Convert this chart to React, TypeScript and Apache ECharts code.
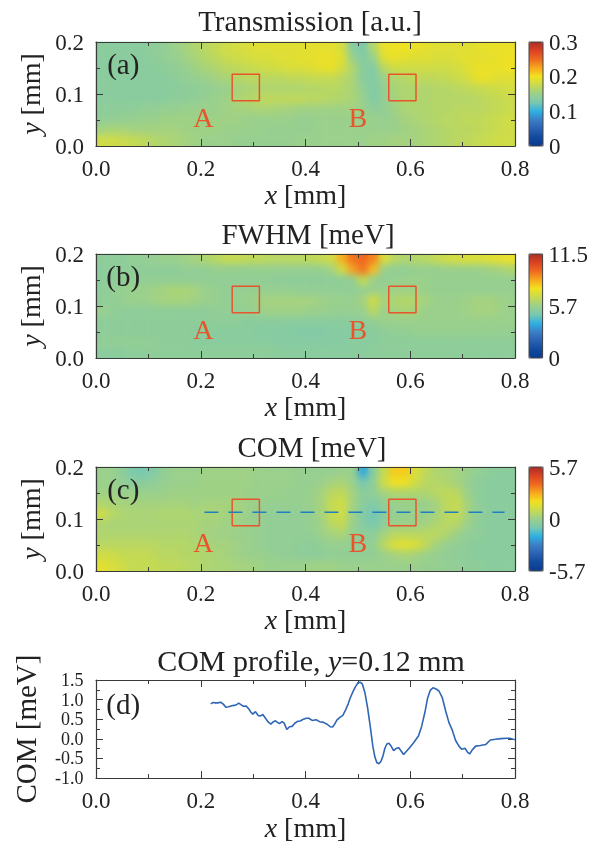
import React, { useEffect, useRef } from "react";
import * as echarts from "echarts";

// Heat-map cell centres (mm)
const xCenters = [0.01,0.03,0.05,0.07,0.09,0.11,0.13,0.15,0.17,0.19,0.21,0.23,0.25,0.27,0.29,0.31,0.33,0.35,0.37,0.39,0.41,0.43,0.45,0.47,0.49,0.51,0.53,0.55,0.57,0.59,0.61,0.63,0.65,0.67,0.69,0.71,0.73,0.75,0.77,0.79];
const yCentersTopDown = [0.19,0.17,0.15,0.13,0.11,0.09,0.07,0.05,0.03,0.01];

const transmissionRows = [
  [46,46,46,46,46,47,48,50,52,54,56,58,60,61,62,63,63,63,63,63,64,64,64,61,45,43,55,65,66,66,65,64,63,63,63,63,64,65,65,65],
  [46,46,46,46,46,47,48,49,51,53,55,57,59,60,61,62,62,63,63,64,64,65,65,63,50,44,50,63,65,64,63,63,62,62,63,64,64,64,65,66],
  [46,46,46,46,46,46,47,48,49,51,53,54,56,57,58,59,60,61,62,62,63,64,65,61,54,46,44,56,60,60,60,60,60,60,61,63,65,65,65,66],
  [46,46,46,46,46,46,46,47,48,49,50,52,53,55,56,56,56,56,57,57,58,58,58,56,53,46,44,50,54,55,57,57,57,58,59,61,65,65,63,63],
  [46,46,46,46,46,46,46,46,47,47,48,49,50,52,53,54,54,54,54,54,55,55,56,55,53,48,44,48,53,54,54,54,55,55,56,57,58,59,60,61],
  [46,46,46,46,46,46,46,47,47,48,49,50,51,53,55,56,57,57,57,57,56,56,55,54,53,50,44,48,52,54,54,54,55,55,55,55,56,57,58,59],
  [47,47,47,47,48,48,49,49,50,50,50,50,51,52,52,53,53,52,52,51,51,51,51,51,51,50,47,48,51,53,54,54,55,55,56,56,56,57,58,59],
  [48,48,49,49,50,50,51,51,51,51,51,51,51,51,50,50,50,50,50,49,49,50,50,50,50,50,50,49,50,52,53,54,55,56,56,57,57,58,59,60],
  [52,53,53,52,52,52,52,52,51,51,51,51,50,50,50,50,49,49,49,49,49,50,50,50,50,50,50,50,50,51,52,53,54,55,56,56,57,58,59,60],
  [60,60,59,58,57,55,54,53,52,51,50,50,50,49,49,49,49,49,49,50,50,50,50,50,50,50,51,51,52,52,52,53,54,55,56,57,58,59,60,60],
];
const fwhmRows = [
  [47,47,47,48,48,49,50,50,51,52,54,56,58,58,57,57,56,56,56,56,57,58,60,74,82,84,80,62,56,54,55,56,58,60,61,62,62,63,64,65],
  [46,47,47,47,47,47,47,47,48,48,48,49,49,49,49,49,49,49,49,49,49,49,52,60,76,82,72,50,48,48,49,49,49,50,50,50,50,51,52,54],
  [47,47,48,48,48,48,48,48,48,48,48,48,48,48,48,48,48,47,47,47,47,47,47,47,48,58,50,48,49,50,50,50,49,49,49,49,49,49,49,49],
  [47,48,49,50,50,51,52,53,53,52,50,49,48,48,49,49,49,49,49,48,48,48,48,48,48,49,50,50,51,51,51,50,49,49,49,49,49,49,49,49],
  [47,48,49,50,50,51,52,52,52,51,50,49,48,49,50,51,52,52,52,52,52,51,50,50,49,52,60,52,54,55,54,52,50,50,50,51,52,52,51,50],
  [50,48,47,47,47,47,47,47,47,47,47,48,48,48,49,50,51,51,51,51,50,50,49,49,49,50,56,50,52,53,52,50,50,50,50,51,52,52,51,50],
  [47,47,47,47,47,47,47,47,47,47,47,47,47,47,46,46,46,46,46,46,46,46,46,46,46,47,48,50,50,50,50,50,50,50,50,50,50,50,50,50],
  [47,47,47,47,47,47,47,47,47,46,46,46,46,46,46,45,45,45,45,44,44,44,45,45,45,45,46,47,48,48,49,49,49,49,49,49,49,49,49,49],
  [48,48,48,48,48,48,47,47,47,46,46,46,46,46,46,46,46,45,45,45,45,45,45,45,46,46,46,47,47,47,47,47,47,47,47,47,47,47,47,47],
  [46,46,46,47,47,47,47,47,47,47,47,47,47,47,47,47,47,46,46,46,46,46,46,46,46,46,47,47,47,47,47,47,47,47,47,47,47,47,47,47],
];
const comRows = [
  [50,50,47,43,42,44,48,50,50,50,51,51,51,51,51,50,50,50,50,49,49,49,49,50,50,32,46,58,70,70,62,57,54,53,52,50,48,47,46,46],
  [50,50,48,46,46,47,49,50,50,50,51,51,51,51,51,50,50,50,50,49,49,50,52,53,50,42,47,60,66,66,60,56,55,54,52,49,47,46,46,46],
  [51,51,50,50,50,50,50,51,51,51,51,51,51,51,50,50,50,50,49,49,50,52,56,57,52,46,48,52,54,54,54,54,56,57,56,50,47,46,46,46],
  [54,53,52,52,52,52,52,52,52,51,52,52,52,52,51,50,49,49,49,49,50,52,58,60,52,46,44,48,50,50,50,50,52,57,58,52,47,46,46,46],
  [60,56,54,53,53,53,54,54,54,53,53,53,52,52,50,49,48,48,48,48,49,52,58,60,51,44,41,46,49,50,50,50,52,56,58,52,48,46,46,46],
  [54,53,53,53,53,53,53,53,53,53,52,52,51,51,50,49,48,48,48,48,49,51,56,58,50,45,42,47,50,50,50,52,54,56,55,50,47,46,46,46],
  [54,54,54,54,54,54,54,54,54,53,52,51,51,50,50,49,48,48,48,48,48,50,52,53,49,47,47,52,56,56,56,56,56,54,50,48,47,46,46,46],
  [56,56,56,56,56,56,55,55,55,54,53,52,52,51,50,49,48,48,48,47,47,48,49,49,48,48,48,56,62,64,62,57,52,49,48,47,46,46,46,46],
  [60,60,58,58,58,57,56,56,55,55,54,53,52,51,50,50,49,48,48,47,47,47,48,48,48,48,48,50,52,53,52,50,49,48,47,47,46,46,46,46],
  [64,62,60,58,58,58,57,57,56,55,54,53,53,52,52,51,50,50,50,50,51,51,51,50,50,50,50,50,50,50,50,49,49,48,48,47,47,46,46,46],
];

// COM profile, panel (d)
const profileX = [0.219,0.223,0.228,0.2325,0.238,0.243,0.248,0.2535,0.259,0.264,0.269,0.2726,0.278,0.2815,0.2866,0.2917,0.2955,0.2994,0.3045,0.3096,0.3134,0.3185,0.3236,0.3287,0.3338,0.3389,0.3427,0.3465,0.3503,0.3554,0.3592,0.3643,0.3694,0.3745,0.3796,0.3847,0.3898,0.395,0.4013,0.4064,0.4127,0.4204,0.4268,0.4344,0.442,0.447,0.4518,0.4548,0.4599,0.465,0.4713,0.4764,0.4815,0.4854,0.4904,0.4955,0.5006,0.5045,0.5083,0.5134,0.5185,0.5236,0.5287,0.5325,0.5363,0.5401,0.544,0.5478,0.5516,0.5554,0.5592,0.5631,0.5682,0.5733,0.5783,0.5822,0.5873,0.5924,0.5987,0.6064,0.6159,0.6217,0.628,0.6331,0.6382,0.6433,0.6484,0.6548,0.6611,0.6675,0.6739,0.6803,0.6866,0.693,0.6981,0.7045,0.7096,0.7134,0.7185,0.7248,0.7338,0.7439,0.7529,0.763,0.7732,0.7847,0.7898,0.7962,0.8];
const profileY = [0.893,0.925,0.917,0.917,0.933,0.885,0.805,0.82,0.845,0.853,0.877,0.909,0.861,0.83,0.837,0.765,0.685,0.63,0.693,0.597,0.58,0.62,0.525,0.43,0.374,0.438,0.46,0.42,0.39,0.438,0.4,0.238,0.31,0.318,0.398,0.446,0.454,0.494,0.526,0.526,0.47,0.486,0.438,0.42,0.366,0.31,0.302,0.358,0.478,0.542,0.597,0.733,0.893,1.04,1.197,1.332,1.436,1.444,1.404,1.18,0.797,0.318,-0.2,-0.465,-0.609,-0.633,-0.577,-0.44,-0.24,-0.13,-0.113,-0.177,-0.297,-0.24,-0.225,-0.305,-0.4,-0.32,-0.225,-0.097,0.08,0.318,0.677,1.037,1.236,1.3,1.276,1.22,1.053,0.717,0.414,0.222,-0.042,-0.185,-0.265,-0.24,-0.345,-0.385,-0.28,-0.185,-0.17,-0.145,-0.03,-0.01,0.006,0.014,0.014,-0.01,-0.018];
const profileYTicks = [-1, -0.5, 0, 0.5, 1, 1.5];

// Overlay marks in data coordinates
const boxAX = [0.26, 0.312];
const boxBX = [0.559, 0.611];
const boxY = [0.087, 0.138];
const dashX = [0.207, 0.78];
const dashY = 0.113;
const regionLabels = [{ name: "A", x: 0.205, y: 0.055 }, { name: "B", x: 0.5, y: 0.055 }];

// Panel texts and scales
const panelTitles = ["Transmission [a.u.]", "FWHM [meV]", "COM [meV]"];
const panelLetters = ["(a)", "(b)", "(c)", "(d)"];
const barRanges = [[0, 0.3], [0, 11.5], [-5.7, 5.7]];
const barIntervals = [0.1, 5.75, 5.7];
const barTickLabels = [["0", "0.1", "0.2", "0.3"], ["0", "5.7", "11.5"], ["-5.7", "0", "5.7"]];

const colorStops = ["#0a3a8f","#114a9e","#2a62b3","#3c7ec6","#2eb0e2","#78c8b0","#9ad08c","#c6da50","#f2e21e","#f8a81e","#ee6a20","#dc4222","#a82e28"];

const FONT = "Liberation Serif";
const INK = "#222";
const AXIS = "#3a3a3a";
const RED = "#e8552d";
const PLOT = { left: 96, width: 419, height: 104 };
const TOPS = [42, 254, 467, 680];
const TITLE_TOPS = [1, 214, 427, 640];
const TITLE_X = [305, 303, 307, 306];
const BAR = { left: 529, width: 14 };

function buildHeatOption() {
  const grid: any[] = [];
  const xAxis: any[] = [];
  const yAxis: any[] = [];
  const series: any[] = [];
  const visualMap: any[] = [];
  [transmissionRows, fwhmRows, comRows].forEach((rows, p) => {
    grid.push({ left: PLOT.left, top: TOPS[p], width: PLOT.width, height: PLOT.height });
    xAxis.push({ type: "category", gridIndex: p, data: xCenters, show: false });
    yAxis.push({ type: "category", gridIndex: p, data: [...yCentersTopDown].reverse(), show: false });
    const [lo, hi] = barRanges[p];
    const data: number[][] = [];
    rows.forEach((row, r) => row.forEach((pct, c) => {
      data.push([c, rows.length - 1 - r, lo + (pct / 100) * (hi - lo)]);
    }));
    series.push({
      type: "heatmap", xAxisIndex: p, yAxisIndex: p, data, silent: true,
      itemStyle: { borderWidth: 0 }, emphasis: { disabled: true }, progressive: 0,
    });
    visualMap.push({
      type: "continuous", seriesIndex: p, min: lo, max: hi, calculable: false, hoverLink: false,
      realtime: false, left: BAR.left, top: TOPS[p], itemWidth: BAR.width, itemHeight: PLOT.height, padding: 0,
      showLabel: false, text: null, inRange: { color: colorStops }, textStyle: { fontSize: 0 },
    });
  });
  return { animation: false, backgroundColor: "#fff", grid, xAxis, yAxis, series, visualMap, tooltip: { show: false } };
}

function buildMainOption() {
  const grid: any[] = [];
  const xAxis: any[] = [];
  const yAxis: any[] = [];
  const series: any[] = [];
  const title: any[] = [];
  const nameRich = { i: { fontStyle: "italic", fontFamily: FONT, fontSize: 28, color: INK } };

  const ticks = () => ({
    axisTick: { show: true, inside: true, length: 7, lineStyle: { color: AXIS, width: 1 } },
    minorTick: { show: true, splitNumber: 2, length: 4, lineStyle: { color: AXIS, width: 1 } },
    splitLine: { show: false },
    minorSplitLine: { show: false },
    axisLine: { show: true, onZero: false, lineStyle: { color: AXIS, width: 1.2 } },
  });

  TOPS.forEach((top, p) => {
    grid.push({ left: PLOT.left, top, width: PLOT.width, height: PLOT.height });
    const isProfile = p === 3;
    const yMin = isProfile ? -1 : 0;
    const yMax = isProfile ? 1.5 : 0.2;
    const yInt = isProfile ? 0.5 : 0.1;
    xAxis.push({
      type: "value", gridIndex: p, position: "bottom", min: 0, max: 0.8, interval: 0.2,
      ...ticks(),
      axisLabel: { margin: 11, fontFamily: FONT, fontSize: 23, color: INK, formatter: (v: number) => v.toFixed(1) },
      name: "{i|x} [mm]", nameLocation: "middle", nameGap: isProfile ? 34 : 31,
      nameTextStyle: { fontFamily: FONT, fontSize: 28, color: INK, rich: nameRich },
    });
    xAxis.push({
      type: "value", gridIndex: p, position: "top", min: 0, max: 0.8, interval: 0.2,
      ...ticks(), axisLabel: { show: false },
    });
    yAxis.push({
      type: "value", gridIndex: p, position: "left", min: yMin, max: yMax, interval: yInt,
      ...ticks(),
      axisLabel: isProfile
        ? { show: false }
        : { margin: 12, fontFamily: FONT, fontSize: 23, color: INK, showMinLabel: true, showMaxLabel: true, formatter: (v: number) => v.toFixed(1) },
      name: isProfile ? "COM [meV]" : "{i|y} [mm]", nameLocation: "middle", nameGap: isProfile ? 56 : 43,
      nameTextStyle: { fontFamily: FONT, fontSize: isProfile ? 29 : 28, color: INK, rich: nameRich },
    });
    yAxis.push({
      type: "value", gridIndex: p, position: "right", min: yMin, max: yMax, interval: yInt,
      ...ticks(), axisLabel: { show: false },
    });
  });

  [0, 1, 2].forEach((p) => {
    title.push({
      text: panelTitles[p], left: TITLE_X[p], top: TITLE_TOPS[p], textAlign: "center",
      textStyle: { fontFamily: FONT, fontSize: 29, fontWeight: "normal", color: INK },
    });
    const [lo, hi] = barRanges[p];
    grid.push({
      left: BAR.left, top: TOPS[p], width: BAR.width, height: PLOT.height,
      show: true, borderColor: "#444", borderWidth: 1, backgroundColor: "transparent",
    });
    const g = 4 + p;
    xAxis.push({ type: "value", gridIndex: g, min: 0, max: 1, show: false });
    yAxis.push({
      type: "value", gridIndex: g, position: "right", min: lo, max: hi, interval: barIntervals[p],
      axisLine: { show: false }, axisTick: { show: false }, splitLine: { show: false },
      axisLabel: {
        margin: 6, fontFamily: FONT, fontSize: 23, color: INK, showMinLabel: true, showMaxLabel: true,
        formatter: (_v: number, i: number) => barTickLabels[p][i],
      },
    });
  });

  title.push({
    text: "{n|COM profile, }{i|y}{n|=0.12 mm}", left: TITLE_X[3], top: TITLE_TOPS[3], textAlign: "center",
    textStyle: {
      fontWeight: "normal",
      rich: {
        n: { fontFamily: FONT, fontSize: 30, fontWeight: "normal", color: INK },
        i: { fontFamily: FONT, fontSize: 30, fontWeight: "normal", fontStyle: "italic", color: INK },
      },
    },
  });

  const hiddenDot = { color: "transparent", opacity: 1 };
  const box = (xs: number[]) => [[xs[0], boxY[0]], [xs[1], boxY[0]], [xs[1], boxY[1]], [xs[0], boxY[1]], [xs[0], boxY[0]]];
  [0, 1, 2].forEach((p) => {
    [boxAX, boxBX].forEach((xs) => {
      series.push({
        type: "line", xAxisIndex: 2 * p, yAxisIndex: 2 * p, data: box(xs), symbol: "none", silent: true,
        lineStyle: { color: RED, width: 1.5 },
      });
    });
    series.push({
      type: "scatter", xAxisIndex: 2 * p, yAxisIndex: 2 * p, symbolSize: 1, silent: true,
      itemStyle: hiddenDot,
      data: regionLabels.map((l) => ({ name: l.name, value: [l.x, l.y] })),
      label: { show: true, position: "inside", formatter: "{b}", fontFamily: FONT, fontSize: 28, color: RED },
    });
  });
  series.push({
    type: "line", xAxisIndex: 4, yAxisIndex: 4, symbol: "none", silent: true,
    data: dashX.map((x) => [x, dashY]),
    lineStyle: { color: "#1f7fc0", width: 1.5, type: [14, 10] },
  });
  series.push({
    type: "line", xAxisIndex: 6, yAxisIndex: 6, symbol: "none", silent: true,
    data: profileX.map((x, i) => [x, profileY[i]]),
    lineStyle: { color: "#2f66b5", width: 1.6 },
  });
  // y tick labels of the profile panel: they sit closer than the axis' own overlap rule allows
  series.push({
    type: "scatter", xAxisIndex: 6, yAxisIndex: 6, symbolSize: 1, silent: true, clip: false,
    itemStyle: hiddenDot,
    data: profileYTicks.map((v) => ({ name: v.toFixed(1), value: [0, v] })),
    label: {
      show: true, position: "left", distance: 12, formatter: "{b}",
      fontFamily: FONT, fontSize: 18, lineHeight: 18, color: INK,
    },
  });
  panelLetters.forEach((text, p) => {
    const isProfile = p === 3;
    series.push({
      type: "scatter", xAxisIndex: 2 * p, yAxisIndex: 2 * p, symbolSize: 1, silent: true,
      itemStyle: hiddenDot,
      data: [{ name: text, value: [0.052, isProfile ? 0.9 : 0.157] }],
      label: { show: true, position: "inside", formatter: "{b}", fontFamily: FONT, fontSize: 29, color: INK },
    });
  });

  return { animation: false, backgroundColor: "transparent", grid, xAxis, yAxis, series, title, tooltip: { show: false } };
}

const layer: React.CSSProperties = { position: "absolute", left: 0, top: 0, width: 591, height: 842 };

export default function App() {
  const heatRef = useRef<HTMLDivElement>(null);
  const mainRef = useRef<HTMLDivElement>(null);
  useEffect(() => {
    const heat = echarts.init(heatRef.current!, undefined, { renderer: "svg" });
    heat.setOption(buildHeatOption() as any);
    const main = echarts.init(mainRef.current!, undefined, { renderer: "svg" });
    main.setOption(buildMainOption() as any);
    return () => {
      heat.dispose();
      main.dispose();
    };
  }, []);
  return (
    <div style={layer}>
      <div ref={heatRef} style={layer} />
      {TOPS.slice(0, 3).map((top) => (
        <div
          key={top}
          style={{
            position: "absolute", left: PLOT.left, top, width: PLOT.width, height: PLOT.height,
            backdropFilter: "blur(3.5px)", WebkitBackdropFilter: "blur(3.5px)",
          }}
        />
      ))}
      <div ref={mainRef} style={layer} />
    </div>
  );
}
